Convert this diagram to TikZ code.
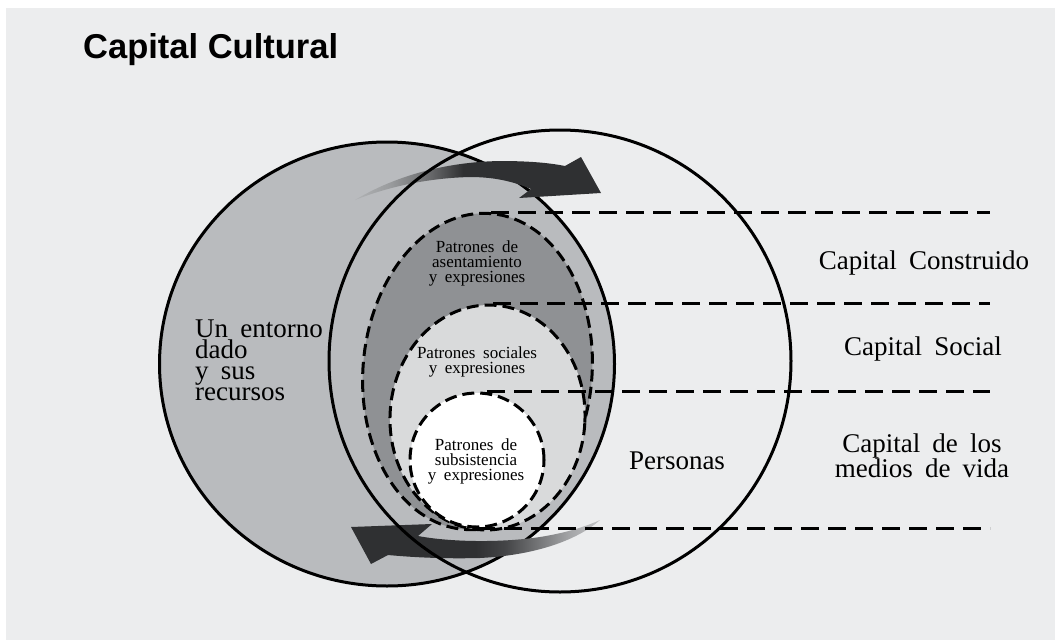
\documentclass[tikz,border=0pt]{standalone}
\usepackage{fontspec}
\setmainfont{Liberation Serif}[WordSpace=1.8]
\newfontfamily\titlefont{Liberation Sans}
\usetikzlibrary{shapes.geometric}
\definecolor{bg}{HTML}{ECEDEE}
\definecolor{envgray}{HTML}{B9BBBE}
\definecolor{asentgray}{HTML}{8F9194}
\definecolor{socgray}{HTML}{D9DADB}
\definecolor{tA}{HTML}{B0B2B4}
\definecolor{tB}{HTML}{9A9C9E}
\definecolor{tC}{HTML}{6A6B6D}
\definecolor{tD}{HTML}{2F3032}
\definecolor{bB}{HTML}{444547}
\definecolor{bC}{HTML}{707173}
\definecolor{bE}{HTML}{A5A6A8}
\definecolor{bF}{HTML}{C3C4C6}
\pgfdeclarehorizontalshading{toparrowshade}{100bp}{color(0bp)=(tA); color(25bp)=(tA); color(32bp)=(tB); color(40bp)=(tC); color(47bp)=(tD); color(100bp)=(tD)}
\pgfdeclarehorizontalshading{botarrowshade}{100bp}{color(0bp)=(tD); color(50bp)=(tD); color(56bp)=(bB); color(62bp)=(bC); color(69bp)=(bE); color(75bp)=(bF); color(100bp)=(bF)}
\begin{document}
\begin{tikzpicture}[x=1pt,y=-1pt,
  outline/.style={draw=black,line width=3pt},
  dashring/.style={draw=black,line width=3pt,dash pattern=on 12pt off 6pt},
  hline/.style={draw=black,line width=3.2pt,dash pattern=on 18pt off 9pt},
  biglabel/.style={inner sep=0pt},
  smalllabel/.style={font=\fontsize{17}{15}\selectfont,inner sep=0pt,align=center},
]
\useasboundingbox (0,0) rectangle (1055,640);
\fill[white] (0,0) rectangle (1055,640);
\fill[bg] (6,8) rectangle (1055,640);

\node[ellipse, outline, fill=envgray, minimum width=455pt, minimum height=444pt, inner sep=0pt] (env) at (387,364) {};
\node[ellipse, dashring, fill=asentgray, minimum width=229pt, minimum height=317pt, rotate=-5, inner sep=0pt] (asent) at (477.5,371.5) {};
\node[ellipse, dashring, fill=socgray, minimum width=195pt, minimum height=225pt, rotate=-3, inner sep=0pt] (soc) at (487.5,417.5) {};
\node[circle, dashring, fill=white, minimum size=134pt, inner sep=0pt] (subs) at (477,460) {};

% top curved arrow
\shade[shading=toparrowshade] (355,200) .. controls (395,176) and (445,162) .. (500,161)
  .. controls (530,161) and (550,163) .. (565,166) -- (581,157) -- (601,193) -- (519,198) -- (531,189)
  .. controls (510,180) and (490,177) .. (470,177) .. controls (430,178) and (390,186) .. (355,200) -- cycle;
% bottom curved arrow
\shade[shading=botarrowshade] (351,527) -- (432,524) -- (418,536)
  .. controls (450,542) and (500,543) .. (540,537) .. controls (565,533) and (585,527) .. (600,520)
  .. controls (580,538) and (540,555) .. (480,558) .. controls (440,559) and (410,557) .. (388,555)
  -- (371,564) -- cycle;

\node[circle, outline, minimum size=462pt, inner sep=0pt] (pers) at (560,361) {};

\coordinate (lineend) at (990,0);
\draw[hline] (asent.north) -- (asent.north -| lineend);
\draw[hline] (soc.north) -- (soc.north -| lineend);
\draw[hline] ([xshift=10pt]subs.north) -- (subs.north -| lineend);
\draw[hline] (subs.south) -- (subs.south -| lineend);

\node[font=\titlefont\fontsize{34.5}{40}\selectfont\bfseries, anchor=base west, inner sep=0pt] (title) at (83,58) {Capital Cultural};

\node[biglabel, font=\fontsize{27}{21}\selectfont, align=left, anchor=west] (envlabel) at (195,360.5) {Un entorno\\dado\\y sus\\recursos};
\node[biglabel, font=\fontsize{27}{24}\selectfont, anchor=base] (perslabel) at (677,469) {Personas};
\node[biglabel, font=\fontsize{27}{24}\selectfont, anchor=base] (cc) at (924,269) {Capital Construido};
\node[biglabel, font=\fontsize{27}{24}\selectfont, anchor=base] (cs) at (923,355) {Capital Social};
\node[biglabel, font=\fontsize{27}{24}\selectfont, align=center] (cm) at (922,455.8) {Capital de los\\medios de vida};

\node[smalllabel] (asentlabel) at (477,263) {Patrones de\\asentamiento\\y expresiones};
\node[smalllabel] (soclabel) at (477,361.5) {Patrones sociales\\y expresiones};
\node[smalllabel] (subslabel) at (476,461) {Patrones de\\subsistencia\\y expresiones};
\end{tikzpicture}
\end{document}
